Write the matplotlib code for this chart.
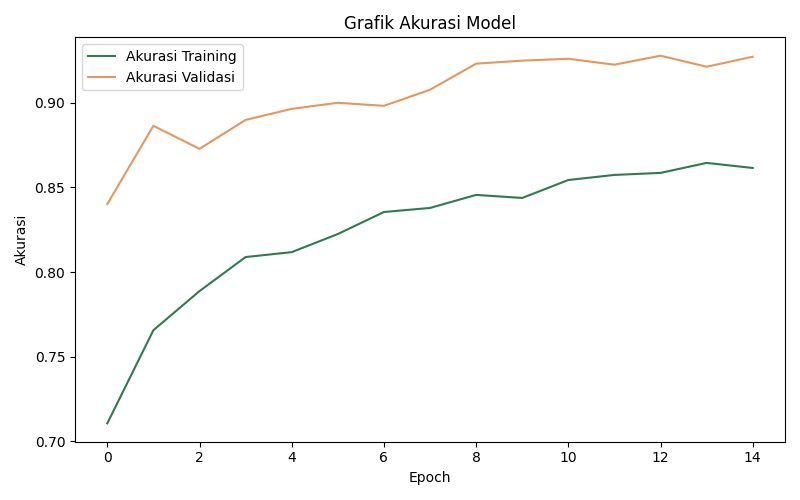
import matplotlib
matplotlib.use("Agg")
import matplotlib.pyplot as plt

# accuracy per epoch
epochs = list(range(15))
train_acc = [0.7107, 0.7657, 0.7888, 0.8089, 0.8118, 0.8225, 0.8355, 0.8379,
             0.8456, 0.8438, 0.8544, 0.8574, 0.8586, 0.8645, 0.8615]
val_acc = [0.8402, 0.8864, 0.8728, 0.8899, 0.8964, 0.9000, 0.8982, 0.9077,
           0.9231, 0.9249, 0.9260, 0.9225, 0.9278, 0.9213, 0.9272]

GREEN, ORANGE = "#2e7b50", "#e5975c"

fig, ax = plt.subplots(figsize=(8, 5), dpi=100)
ax.plot(epochs, train_acc, color=GREEN, lw=1.5, label="Akurasi Training")
ax.plot(epochs, val_acc, color=ORANGE, lw=1.5, label="Akurasi Validasi")

ax.set_title("Grafik Akurasi Model")
ax.set_xlabel("Epoch")
ax.set_ylabel("Akurasi")
ax.legend(loc="upper left")

plt.tight_layout()
fig.savefig("out.png")
